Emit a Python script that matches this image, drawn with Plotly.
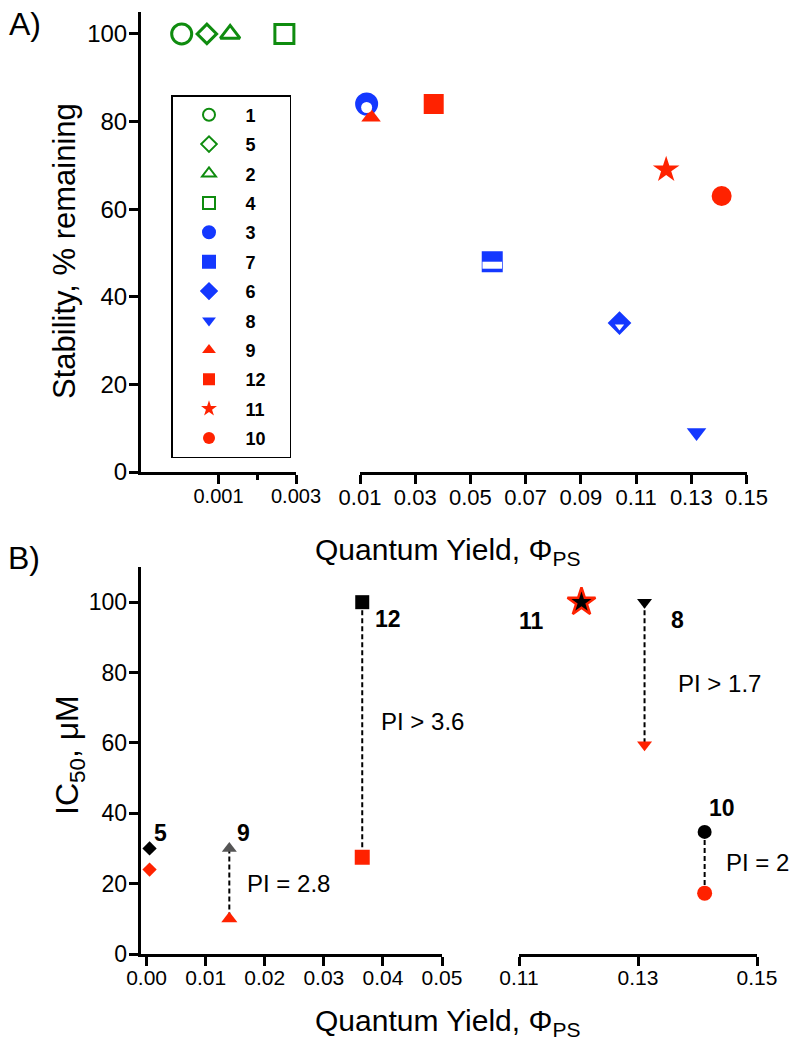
import plotly.graph_objects as go

# ---------------- data : panel A (stability vs quantum yield) ----------------
compounds_A = ["1", "5", "2", "4", "3", "7", "6", "8", "9", "12", "11", "10"]
quantum_yield_A = [0.00005, 0.0007, 0.0013, 0.0027, 0.0124, 0.0579, 0.1040, 0.1319, 0.0140, 0.0367, 0.1209, 0.1410]
stability_A = [100, 100, 100, 100, 84, 48, 34, 9, 81, 84, 69, 63]

# ---------------- data : panel B (IC50 vs quantum yield) ----------------
compounds_B = ["5", "9", "12", "11", "8", "10"]
quantum_yield_B = [0.0005, 0.0140, 0.0365, 0.1205, 0.1311, 0.1412]
ic50_dark_B = [30, 30, 100, 100, 100, 34.7]
ic50_light_B = [24, 10, 27.5, 100, 59.5, 17.3]
pi_labels_B = ["", "PI = 2.8", "PI > 3.6", "", "PI > 1.7", "PI = 2"]

# ---------------- tick labels ----------------
ticks_A1 = [0.001, 0.003]
ticktext_A1 = ["0.001", "0.003"]
minor_A1 = [0.002]
ticks_A2 = [0.01, 0.03, 0.05, 0.07, 0.09, 0.11, 0.13, 0.15]
ticktext_A2 = ["0.01", "0.03", "0.05", "0.07", "0.09", "0.11", "0.13", "0.15"]
ticks_y = [0, 20, 40, 60, 80, 100]
ticktext_y = ["0", "20", "40", "60", "80", "100"]
ticks_B1 = [0.00, 0.01, 0.02, 0.03, 0.04, 0.05]
ticktext_B1 = ["0.00", "0.01", "0.02", "0.03", "0.04", "0.05"]
ticks_B2 = [0.11, 0.13, 0.15]
ticktext_B2 = ["0.11", "0.13", "0.15"]

# ---------------- styles ----------------
W, H = 795, 1050
FONT = "Liberation Sans, Arial, sans-serif"
GREEN = "#0f8c0f"
BLUE = "#1438ff"
RED = "#ff2200"
GREY = "#555555"
BLACK = "#000000"


def fx(p):
    return p / W


def fy(p):
    return 1 - p / H


style_A = {
    "1": dict(symbol="circle-open", size=20, color=GREEN, lw=3),
    "5": dict(symbol="diamond-open", size=15, color=GREEN, lw=3),
    "2": dict(symbol="triangle-up-open", size=17, color=GREEN, lw=3),
    "4": dict(symbol="square-open", size=19, color=GREEN, lw=3),
    "3": dict(symbol="circle", size=20, color=BLUE, lw=3),
    "7": dict(symbol="square", size=18, color=BLUE, lw=3),
    "6": dict(symbol="diamond", size=15, color=BLUE, lw=3),
    "8": dict(symbol="triangle-down", size=17, color=BLUE, lw=0),
    "9": dict(symbol="triangle-up", size=17, color=RED, lw=0),
    "12": dict(symbol="square", size=20, color=RED, lw=0),
    "11": dict(symbol="star", size=20, color=RED, lw=0),
    "10": dict(symbol="circle", size=20, color=RED, lw=0),
}
# white inner parts giving the half-filled look
half_fill_A = {
    "3": dict(symbol="circle", size=11, lw=0),
    "7": dict(symbol="line-ew", size=14, lw=7),
    "6": dict(symbol="triangle-down", size=8, lw=0),
}

dark_style_B = {
    "5": dict(symbol="diamond", size=11, color=BLACK, line=BLACK, lw=0),
    "9": dict(symbol="triangle-up", size=13, color=GREY, line=GREY, lw=0),
    "12": dict(symbol="square", size=14, color=BLACK, line=BLACK, lw=0),
    "11": dict(symbol="star", size=21, color=BLACK, line=RED, lw=2.5),
    "8": dict(symbol="triangle-down", size=13, color=BLACK, line=BLACK, lw=0),
    "10": dict(symbol="circle", size=14, color=BLACK, line=BLACK, lw=0),
}
light_style_B = {
    "5": dict(symbol="diamond", size=11, color=RED),
    "9": dict(symbol="triangle-up", size=14, color=RED),
    "12": dict(symbol="square", size=15, color=RED),
    "8": dict(symbol="triangle-down", size=13, color=RED),
    "10": dict(symbol="circle", size=15, color=RED),
}
label_shift_B = {"5": (11, 15), "9": (14, 15), "12": (26, -17), "11": (-50, -19), "8": (33, -18), "10": (17, 24)}
pi_shift_B = {"9": (59, 0), "12": (60, 8), "8": (75, -10), "10": (53, 0)}

fig = go.Figure()

# ---------------- panel A traces ----------------
for i, c in enumerate(compounds_A):
    s = style_A[c]
    xa = "x" if quantum_yield_A[i] < 0.005 else "x2"
    fig.add_trace(go.Scatter(
        x=[quantum_yield_A[i]], y=[stability_A[i]], mode="markers",
        name=c + "\u2002\u2002",
        xaxis=xa, yaxis="y", legendgroup=c, cliponaxis=False,
        marker=dict(symbol=s["symbol"], size=s["size"], color=s["color"],
                    line=dict(color=s["color"], width=s["lw"])),
        hoverinfo="skip",
    ))
for i, c in enumerate(compounds_A):
    if c in half_fill_A:
        h = half_fill_A[c]
        fig.add_trace(go.Scatter(
            x=[quantum_yield_A[i]], y=[stability_A[i]], mode="markers", showlegend=False,
            xaxis="x2", yaxis="y3", cliponaxis=False,
            marker=dict(symbol=h["symbol"], size=h["size"], color="white",
                        line=dict(color="white", width=h["lw"])),
            hoverinfo="skip",
        ))

# ---------------- panel B traces ----------------
annotations = []
for i, c in enumerate(compounds_B):
    xa = "x3" if quantum_yield_B[i] < 0.06 else "x4"
    xv = quantum_yield_B[i]
    if c in pi_shift_B:
        fig.add_trace(go.Scatter(
            x=[xv, xv], y=[ic50_dark_B[i], ic50_light_B[i]], mode="lines", showlegend=False,
            xaxis=xa, yaxis="y2", line=dict(color=BLACK, width=2, dash="5px,3px"),
            hoverinfo="skip",
        ))
    if c in light_style_B:
        ls = light_style_B[c]
        fig.add_trace(go.Scatter(
            x=[xv], y=[ic50_light_B[i]], mode="markers", showlegend=False,
            xaxis=xa, yaxis="y2", cliponaxis=False,
            marker=dict(symbol=ls["symbol"], size=ls["size"], color=ls["color"], line=dict(width=0)),
            hoverinfo="skip",
        ))
    ds = dark_style_B[c]
    fig.add_trace(go.Scatter(
        x=[xv], y=[ic50_dark_B[i]], mode="markers", showlegend=False,
        xaxis=xa, yaxis="y2", cliponaxis=False,
        marker=dict(symbol=ds["symbol"], size=ds["size"], color=ds["color"],
                    line=dict(color=ds["line"], width=ds["lw"])),
        hoverinfo="skip",
    ))
    sx, sy = label_shift_B[c]
    annotations.append(dict(
        x=xv, y=ic50_dark_B[i], xref=xa, yref="y2", text="<b>%s</b>" % c, showarrow=False,
        xanchor="center", yanchor="middle",
        xshift=sx, yshift=sy, font=dict(family=FONT, size=23, color=BLACK),
    ))
    if pi_labels_B[i]:
        px_, py_ = pi_shift_B[c]
        annotations.append(dict(
            x=xv, y=(ic50_dark_B[i] + ic50_light_B[i]) / 2, xref=xa, yref="y2",
            text=pi_labels_B[i], showarrow=False, xshift=px_, yshift=py_,
            xanchor="center", yanchor="middle",
            font=dict(family=FONT, size=24, color=BLACK),
        ))


# ---------------- titles / panel letters ----------------
def paper_text(x, y, text, size, angle=0):
    return dict(x=fx(x), y=fy(y), xref="paper", yref="paper", text=text, showarrow=False,
                xanchor="center", yanchor="middle", textangle=angle,
                font=dict(family=FONT, size=size, color=BLACK))


annotations += [
    paper_text(25, 24, "A)", 32),
    paper_text(24, 558, "B)", 32),
    paper_text(64, 251, "Stability, % remaining", 31, -90),
    paper_text(447, 551, "Quantum Yield, Φ<sub>PS</sub>", 30),
    paper_text(69, 755, "IC<sub>50</sub>, μM", 32, -90),
    paper_text(447, 1022, "Quantum Yield, Φ<sub>PS</sub>", 30),
]

axis_common = dict(showline=True, linewidth=3, linecolor=BLACK, ticks="outside", ticklen=9,
                   tickwidth=3, tickcolor=BLACK, showgrid=False, zeroline=False,
                   tickmode="array", automargin=False)

yA = [fy(472), fy(12)]
yB = [fy(954), fy(567)]
shift = 3.5 / H

fig.update_layout(
    width=W, height=H,
    margin=dict(l=0, r=0, t=0, b=0, pad=0, autoexpand=False),
    paper_bgcolor="white", plot_bgcolor="rgba(0,0,0,0)",
    font=dict(family=FONT, color=BLACK),
    showlegend=True,
    legend=dict(x=fx(171), y=fy(95), xanchor="left", yanchor="top",
                bordercolor=BLACK, borderwidth=1.5, bgcolor="white",
                font=dict(family=FONT, size=18, color=BLACK, weight="bold"),
                itemsizing="constant", itemwidth=63, tracegroupgap=3,
                traceorder="grouped"),
    xaxis=dict(domain=[fx(141), fx(296)], range=[-0.001, 0.003], anchor="y",
               tickvals=ticks_A1, ticktext=ticktext_A1, ticklabelstandoff=-5,
               minor=dict(tickmode="array", tickvals=minor_A1, ticks="outside", ticklen=5,
                          tickwidth=3, tickcolor=BLACK, showgrid=False),
               tickfont=dict(family=FONT, size=20, color=BLACK), **axis_common),
    xaxis2=dict(domain=[fx(360), fx(746.5)], range=[0.01, 0.15], anchor="y",
                tickvals=ticks_A2, ticktext=ticktext_A2, ticklabelstandoff=-5,
                tickfont=dict(family=FONT, size=22, color=BLACK), **axis_common),
    yaxis=dict(domain=yA, range=[0, 105], anchor="x", tickvals=ticks_y, ticktext=ticktext_y,
               ticklabelstandoff=-3,
               tickfont=dict(family=FONT, size=24, color=BLACK), **axis_common),
    yaxis3=dict(domain=[yA[0] - shift, yA[1] - shift], range=[0, 105], anchor="x2",
                visible=False, showgrid=False, zeroline=False, automargin=False),
    xaxis3=dict(domain=[fx(140.7), fx(442)], range=[-0.001, 0.05], anchor="y2",
                tickvals=ticks_B1, ticktext=ticktext_B1, ticklabelstandoff=-6,
                tickfont=dict(family=FONT, size=21, color=BLACK), **axis_common),
    xaxis4=dict(domain=[fx(519), fx(757)], range=[0.11, 0.15], anchor="y2",
                tickvals=ticks_B2, ticktext=ticktext_B2, ticklabelstandoff=-6,
                tickfont=dict(family=FONT, size=21, color=BLACK), **axis_common),
    yaxis2=dict(domain=yB, range=[0, 110], anchor="x3", tickvals=ticks_y, ticktext=ticktext_y,
                ticklabelstandoff=-3,
                tickfont=dict(family=FONT, size=23, color=BLACK), **axis_common),
    annotations=annotations,
)

fig.write_html("out.html", config={"displayModeBar": False},
               post_script="document.body.style.margin = '0';")
